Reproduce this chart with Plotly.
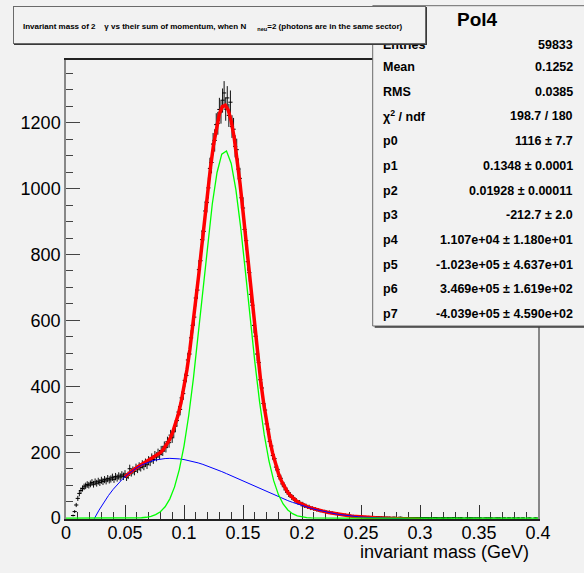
import numpy as np
import plotly.graph_objects as go

# ---------------- data ----------------
x_min, x_max, n_bins = 0.0, 0.4, 300
counts = [
    0, 0, 0, 0, 8, 20, 40, 60, 75, 84,
    90, 95, 98, 102, 100, 104, 108, 103, 110, 106,
    112, 108, 115, 111, 117, 113, 120, 116, 119, 124,
    118, 126, 122, 128, 125, 131, 127, 134, 124, 130,
    150, 138, 145, 142, 153, 149, 157, 154, 163, 158,
    168, 162, 175, 171, 183, 178, 190, 186, 197, 193,
    205, 203, 218, 214, 232, 229, 252, 244, 262, 279,
    296, 322, 330, 365, 378, 418, 433, 480, 498, 547,
    585, 610, 668, 692, 754, 781, 845, 870, 932, 958,
    1002, 1061, 1079, 1135, 1146, 1194, 1198, 1240, 1232, 1268,
    1290, 1241, 1275, 1222, 1262, 1188, 1180, 1128, 1118, 1059,
    1031, 972, 941, 876, 842, 778, 745, 679, 646, 585,
    552, 498, 472, 420, 395, 348, 328, 286, 270, 233,
    219, 190, 181, 155, 148, 127, 121, 104, 100, 86,
    84, 73, 71, 63, 62, 54, 53, 47, 48, 42,
    43, 37, 38, 34, 35, 30, 31, 27, 28, 24,
    25, 22, 23, 20, 21, 19, 18, 19, 16, 17,
    15, 13, 14, 12, 12, 11, 10, 11, 9, 10,
    8, 7, 8, 6, 7, 6, 5, 6, 5, 5,
    5, 4, 5, 4, 4, 3, 4, 3, 4, 3,
    3, 3, 2, 3, 2, 3, 2, 2, 3, 2,
    2, 2, 3, 1, 2, 2, 1, 2, 2, 1,
    2, 1, 2, 1, 1, 2, 1, 1, 2, 1,
    1, 1, 0, 1, 2, 1, 1, 0, 1, 1,
    1, 0, 1, 1, 0, 1, 2, 0, 1, 0,
    1, 1, 0, 0, 1, 0, 1, 1, 0, 1,
    0, 1, 0, 1, 0, 0, 1, 0, 1, 0,
    1, 0, 0, 1, 0, 1, 0, 0, 1, 0,
    0, 1, 0, 0, 1, 0, 0, 1, 0, 0,
    1, 0, 0, 0, 1, 0, 0, 0, 1, 0,
]

# fit parameters shown in the stats box: gaus(p0,p1,p2) + pol4(p3..p7)
fit_params = [1116, 0.1348, 0.01928, -212.7, 1.107e4, -1.023e5, 3.469e5, -4.039e5]
fit_range = [0.05, 0.3]

stat_title = "Pol4"
stat_labels = ["Entries", "Mean", "RMS", "χ<sup>2</sup> / ndf", "p0", "p1", "p2",
               "p3", "p4", "p5", "p6", "p7"]
stat_values = ["59833", "0.1252", "0.0385", "198.7 / 180", "1116 ± 7.7",
               "0.1348 ± 0.0001", "0.01928 ± 0.00011", "-212.7 ± 2.0",
               "1.107e+04 ± 1.180e+01", "-1.023e+05 ± 4.637e+01",
               "3.469e+05 ± 1.619e+02", "-4.039e+05 ± 4.590e+02"]

x_tick_vals = [0, 0.05, 0.1, 0.15, 0.2, 0.25, 0.3, 0.35, 0.4]
x_tick_text = ["0", "0.05", "0.1", "0.15", "0.2", "0.25", "0.3", "0.35", "0.4"]
y_tick_vals = [0, 200, 400, 600, 800, 1000, 1200]
y_tick_text = ["0", "200", "400", "600", "800", "1000", "1200"]

title_text = ("Invariant mass of 2\u00a0\u00a0\u00a0\u00a0γ vs their sum of momentum, when N"
              "\u00a0\u00a0\u00a0\u00a0\u00a0<sub>neu</sub>=2 (photons are in the same sector)")
x_title = "invariant mass (GeV)"

# ---------------- derived ----------------
counts = np.array(counts, dtype=float)
edges = np.linspace(x_min, x_max, n_bins + 1)
centers = 0.5 * (edges[:-1] + edges[1:])
mask = counts > 0
errs = np.sqrt(counts)

p = fit_params
def gaus(x):
    return p[0] * np.exp(-0.5 * ((x - p[1]) / p[2]) ** 2)
def pol4(x):
    return p[3] + p[4] * x + p[5] * x**2 + p[6] * x**3 + p[7] * x**4

xf = np.linspace(fit_range[0], fit_range[1], 101)
xa = np.linspace(x_min, x_max, 101)

FONT = "Liberation Sans, Arial, Helvetica, sans-serif"
BG = "#f2f2f2"

fig = go.Figure()
fig.add_trace(go.Scatter(
    x=centers[mask], y=counts[mask], mode="markers",
    marker=dict(symbol="line-ew", size=3, color="black",
                line=dict(width=1, color="black")),
    error_y=dict(type="data", array=errs[mask], visible=True,
                 thickness=1, width=0, color="#111"),
    hoverinfo="skip"))
fig.add_trace(go.Scatter(x=xf, y=gaus(xf) + pol4(xf), mode="lines",
                         line=dict(color="#ff0000", width=3.5), hoverinfo="skip"))
fig.add_trace(go.Scatter(x=xa, y=pol4(xa), mode="lines",
                         line=dict(color="#0000ff", width=1), hoverinfo="skip"))
fig.add_trace(go.Scatter(x=xa, y=gaus(xa), mode="lines",
                         line=dict(color="#00ff00", width=1.3), hoverinfo="skip"))

L, R, T, B = 66, 538, 60, 519
def px2x(px):
    return (px - L) / (R - L)
def py2y(py):
    return (B - py) / (B - T)

shapes = [
    # stats box shadow + box
    dict(type="rect", xref="paper", yref="paper", layer="above",
         x0=px2x(374.7), x1=px2x(600), y0=py2y(327.8), y1=py2y(7.5),
         fillcolor="#3a3a3a", line=dict(width=0)),
    dict(type="rect", xref="paper", yref="paper", layer="above",
         x0=px2x(372.7), x1=px2x(598), y0=py2y(326), y1=py2y(5.7),
         fillcolor=BG, line=dict(width=1, color="#6a6a6a")),
]

annotations = []
annotations.append(dict(xref="paper", yref="paper", x=px2x(477), y=py2y(20),
                        xanchor="center", yanchor="middle", showarrow=False,
                        text="<b>%s</b>" % stat_title,
                        font=dict(family=FONT, size=19, color="black")))
row_y = [45, 67.3, 91.7, 116, 141, 166, 190.7, 215, 240, 265, 289, 314]
for lab, val, yy in zip(stat_labels, stat_values, row_y):
    annotations.append(dict(xref="paper", yref="paper", x=px2x(381), y=py2y(yy),
                            xanchor="left", yanchor="middle", showarrow=False,
                            text="<b>%s</b>" % lab,
                            font=dict(family=FONT, size=12.5, color="black")))
    annotations.append(dict(xref="paper", yref="paper", x=px2x(575), y=py2y(yy),
                            xanchor="right", yanchor="middle", showarrow=False,
                            text="<b>%s</b>" % val,
                            font=dict(family=FONT, size=12.5, color="black")))
# title box (shadow, box, text) drawn after "Entries" so that it covers it
annotations.append(dict(xref="paper", yref="paper", x=px2x(14.2), y=py2y(7.2),
                        xanchor="left", yanchor="top", showarrow=False,
                        text="\u00a0", width=411, height=36, borderpad=0,
                        bgcolor="#3a3a3a", bordercolor="#3a3a3a", borderwidth=1,
                        font=dict(size=8)))
annotations.append(dict(xref="paper", yref="paper", x=px2x(12.7), y=py2y(5.7),
                        xanchor="left", yanchor="top", showarrow=False,
                        text="\u00a0", width=411, height=36, borderpad=0,
                        bgcolor=BG, bordercolor="#6a6a6a", borderwidth=1,
                        font=dict(size=8)))
annotations.append(dict(xref="paper", yref="paper", x=px2x(21), y=py2y(27),
                        xanchor="left", yanchor="middle", showarrow=False,
                        text="<b>%s</b>" % title_text,
                        font=dict(family=FONT, size=8, color="black")))
annotations.append(dict(xref="paper", yref="paper", x=px2x(531), y=py2y(552),
                        xanchor="right", yanchor="middle", showarrow=False,
                        text=x_title, font=dict(family=FONT, size=18, color="black")))

fig.update_layout(
    width=584, height=573,
    margin=dict(l=L, r=584 - R, t=T, b=573 - B, pad=0),
    paper_bgcolor=BG, plot_bgcolor=BG, showlegend=False,
    shapes=shapes, annotations=annotations,
    xaxis=dict(range=[x_min, x_max], tickvals=x_tick_vals, ticktext=x_tick_text,
               ticks="inside", ticklen=14, tickwidth=1, tickcolor="#333",
               showline=True, linecolor="#222", linewidth=1.5, mirror=True,
               showgrid=False, zeroline=False, layer="below traces",
               ticklabelstandoff=-3,
               tickfont=dict(family=FONT, size=18, color="black"),
               minor=dict(dtick=0.01, tick0=0, ticks="inside", ticklen=7,
                          tickwidth=1, tickcolor="#333", showgrid=False)),
    yaxis=dict(range=[-2.5, 1390], tickvals=y_tick_vals, ticktext=y_tick_text,
               ticks="inside", ticklen=14, tickwidth=1, tickcolor="#444",
               showline=True, linecolor="#888", linewidth=1.5, mirror=True,
               showgrid=False, zeroline=False, layer="below traces",
               tickfont=dict(family=FONT, size=18, color="black"),
               minor=dict(dtick=50, tick0=0, ticks="inside", ticklen=7,
                          tickwidth=1, tickcolor="#444", showgrid=False)),
)

fig.write_html("out.html")
